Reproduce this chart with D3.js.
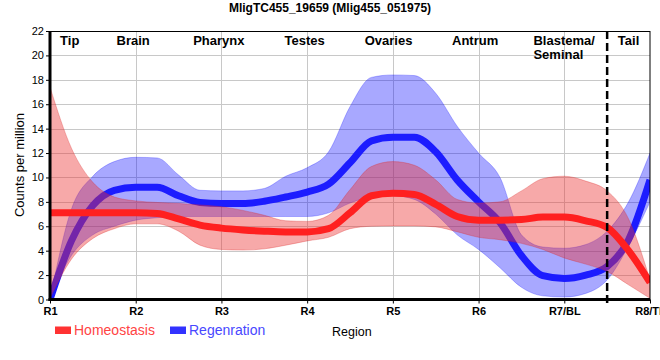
<!DOCTYPE html>
<html>
<head>
<meta charset="utf-8">
<script src="https://cdn.jsdelivr.net/npm/d3@7"></script>
<style>
  body { margin: 0; background: #fff; }
  svg { font-family: "Liberation Sans", Arial, sans-serif; }
</style>
</head>
<body>
<div id="plot"></div>
<script>
const width = 660;
const height = 360;

// ----- DATA ------------------------//
const regions = ["R1", "R2", "R3", "R4", "R5", "R6", "R7/BL", "R8/TL"];
const tissues = ["Tip", "Brain", "Pharynx", "Testes", "Ovaries", "Antrum", "Blastema/\nSeminal", "Tail"];
const tissueAt = [0.23, 0.97, 1.97, 2.97, 3.95, 4.96, 5.64, 6.75];
const yTicks = [0, 2, 4, 6, 8, 10, 12, 14, 16, 18, 20, 22];

// samples every quarter region, R1 .. R8
const samples = d3.range(0, 7.001, 0.25);

const homeoMean = [7.1, 7.1, 7.1, 7.1, 7.1, 7.05, 6.6, 6.1, 5.85, 5.7, 5.6, 5.54, 5.54, 5.8, 7.1,
    8.5, 8.7, 8.6, 7.8, 6.8, 6.5, 6.5, 6.55, 6.75, 6.75, 6.45, 5.9, 4.0, 1.4];
const homeoUpper = [17.4, 12.4, 9.6, 8.4, 8.08, 7.95, 7.87, 7.75, 7.6, 7.3, 6.9, 6.45, 6.4, 6.9, 9.0,
    10.9, 11.3, 11.0, 9.8, 8.2, 7.9, 8.0, 8.9, 9.9, 10.1, 9.7, 8.9, 6.6, 1.6];
const homeoLower = [0.1, 3.3, 5.0, 5.8, 6.2, 6.2, 5.6, 4.45, 4.1, 4.05, 4.15, 4.45, 4.8, 5.1, 5.8,
    6.0, 6.03, 6.03, 5.95, 5.55, 5.1, 4.9, 4.6, 4.1, 3.4, 2.9, 2.3, 1.2, 0.1];

const regenMean = [0, 4.8, 7.7, 8.95, 9.2, 9.2, 8.5, 7.95, 7.87, 7.87, 8.05, 8.4, 8.8, 9.45, 11.2,
    13.0, 13.3, 13.3, 12.1, 9.8, 8.0, 6.3, 3.6, 1.95, 1.72, 2.0, 2.7, 4.9, 9.8];
const regenUpper = [0, 7.4, 10.1, 11.3, 11.65, 11.6, 10.2, 8.95, 8.9, 8.9, 9.1, 10.1, 10.8, 12.1, 15.8,
    18.2, 18.4, 18.35, 16.9, 14.2, 12.0, 10.0, 5.3, 4.3, 4.2, 4.5, 5.6, 8.0, 12.0];
const regenLower = [0, 3.6, 5.3, 6.0, 6.5, 6.7, 6.8, 6.8, 6.8, 6.8, 6.8, 6.8, 6.8, 7.1, 7.9,
    8.4, 8.5, 8.2, 7.0, 5.3, 4.1, 2.6, 1.0, 0.3, 0.2, 0.5, 1.6, 4.4, 8.0];

const tailCut = 6.5;

// build rows
function rows(mean, lo, hi) {
    return samples.map((t, i) => ({ t: t, m: mean[i], lo: lo[i], hi: hi[i] }));
}
const homeo = rows(homeoMean, homeoLower, homeoUpper);
const regen = rows(regenMean, regenLower, regenUpper);

// ----- SVG ------------------------//
const svg = d3.select("#plot").append("svg")
    .attr("width", width)
    .attr("height", height);

const x = d3.scaleLinear().domain([0, 7]).range([50, 650]);
const y = d3.scaleLinear().domain([0, 22]).range([299.5, 31]);

svg.append("defs").append("clipPath").attr("id", "clip")
    .append("rect")
    .attr("x", x(0)).attr("y", y(22))
    .attr("width", x(7) - x(0)).attr("height", y(0) - y(22));

// grid
const grid = svg.append("g").attr("stroke", "#c8c8c8").attr("stroke-width", 1);
grid.selectAll(".h").data(yTicks.slice(1, -1)).enter().append("line")
    .attr("x1", x(0)).attr("x2", x(7))
    .attr("y1", d => Math.round(y(d)) + 0.5).attr("y2", d => Math.round(y(d)) + 0.5);
grid.selectAll(".v").data(d3.range(1, 7)).enter().append("line")
    .attr("y1", y(22)).attr("y2", y(0))
    .attr("x1", d => Math.round(x(d)) + 0.5).attr("x2", d => Math.round(x(d)) + 0.5);

// area + line generators
const area = d3.area()
    .x(d => x(d.t))
    .y0(d => y(d.lo))
    .y1(d => y(d.hi))
    .curve(d3.curveMonotoneX);
const line = d3.line()
    .x(d => x(d.t))
    .y(d => y(d.m))
    .curve(d3.curveMonotoneX);

const plot = svg.append("g").attr("clip-path", "url(#clip)");

plot.append("path").datum(regen)
    .attr("d", area)
    .attr("fill", "rgba(0,0,255,0.34)")
    .attr("stroke", "rgba(0,0,255,0.25)");
plot.append("path").datum(regen)
    .attr("d", line)
    .attr("fill", "none")
    .attr("stroke", "#1c1cff")
    .attr("stroke-width", 7);

plot.append("path").datum(homeo)
    .attr("d", area)
    .attr("fill", "rgba(235,50,50,0.42)")
    .attr("stroke", "rgba(220,40,40,0.3)");
plot.append("path").datum(homeo)
    .attr("d", line)
    .attr("fill", "none")
    .attr("stroke", "#ff2020")
    .attr("stroke-width", 7);

// dashed tail boundary
svg.append("line")
    .attr("x1", x(tailCut)).attr("x2", x(tailCut))
    .attr("y1", y(22)).attr("y2", y(0) + 6)
    .attr("stroke", "#000")
    .attr("stroke-width", 2.5)
    .attr("stroke-dasharray", "8,4");

// frame
svg.append("rect")
    .attr("x", x(0)).attr("y", Math.round(y(22)) + 0.5)
    .attr("width", x(7) - x(0)).attr("height", y(0) - y(22))
    .attr("fill", "none").attr("stroke", "#000").attr("stroke-width", 1);

// axes
const yAxis = d3.axisLeft(y).tickValues(yTicks).tickSize(4).tickPadding(2);
const gy = svg.append("g").attr("transform", "translate(" + x(0) + ",0)").call(yAxis);
gy.select(".domain").remove();
gy.selectAll("text").style("font-size", "11px").attr("fill", "#000");

const xAxis = d3.axisBottom(x).tickValues(d3.range(0, 8)).tickFormat(i => regions[i])
    .tickSize(4).tickPadding(4);
const gx = svg.append("g").attr("transform", "translate(0," + y(0) + ")").call(xAxis);
gx.select(".domain").remove();
gx.selectAll("text").style("font-size", "11px").style("font-weight", "bold").attr("fill", "#000");

svg.append("line").attr("x1", x(0)).attr("x2", x(0)).attr("y1", y(22)).attr("y2", y(0) + 1.5)
    .attr("stroke", "#000").attr("stroke-width", 3);
svg.append("line").attr("x1", x(0) - 1.5).attr("x2", x(7)).attr("y1", y(0)).attr("y2", y(0))
    .attr("stroke", "#000").attr("stroke-width", 3);

// tissue labels
const lab = svg.append("g").style("font-size", "13px").style("font-weight", "bold");
tissues.forEach((name, i) => {
    const parts = name.split("\n");
    const t = lab.append("text")
        .attr("x", x(tissueAt[i]))
        .attr("y", 45)
        .attr("text-anchor", parts.length > 1 ? "start" : "middle");
    parts.forEach((p, j) => {
        t.append("tspan").attr("x", x(tissueAt[i])).attr("dy", j === 0 ? 0 : 14).text(p);
    });
});

// title
svg.append("text")
    .attr("x", 330).attr("y", 12)
    .attr("text-anchor", "middle")
    .style("font-size", "12px").style("font-weight", "bold")
    .text("MligTC455_19659 (Mlig455_051975)");

// y label
svg.append("text")
    .attr("transform", "translate(24,165) rotate(-90)")
    .attr("text-anchor", "middle")
    .style("font-size", "13px")
    .text("Counts per million");

// x label
svg.append("text")
    .attr("x", 332).attr("y", 336)
    .style("font-size", "12.5px")
    .text("Region");

// legend
const legend = [
    { name: "Homeostasis", sw: "#ff3232", txt: "#ff4444", x: 55 },
    { name: "Regenration", sw: "#3232ff", txt: "#4848ff", x: 170 }
];
legend.forEach(l => {
    svg.append("rect").attr("x", l.x).attr("y", 326.5).attr("width", 16).attr("height", 7.5).attr("fill", l.sw);
    svg.append("text").attr("x", l.x + 19).attr("y", 335).style("font-size", "14px")
        .attr("fill", l.txt).text(l.name);
});
</script>
</body>
</html>
